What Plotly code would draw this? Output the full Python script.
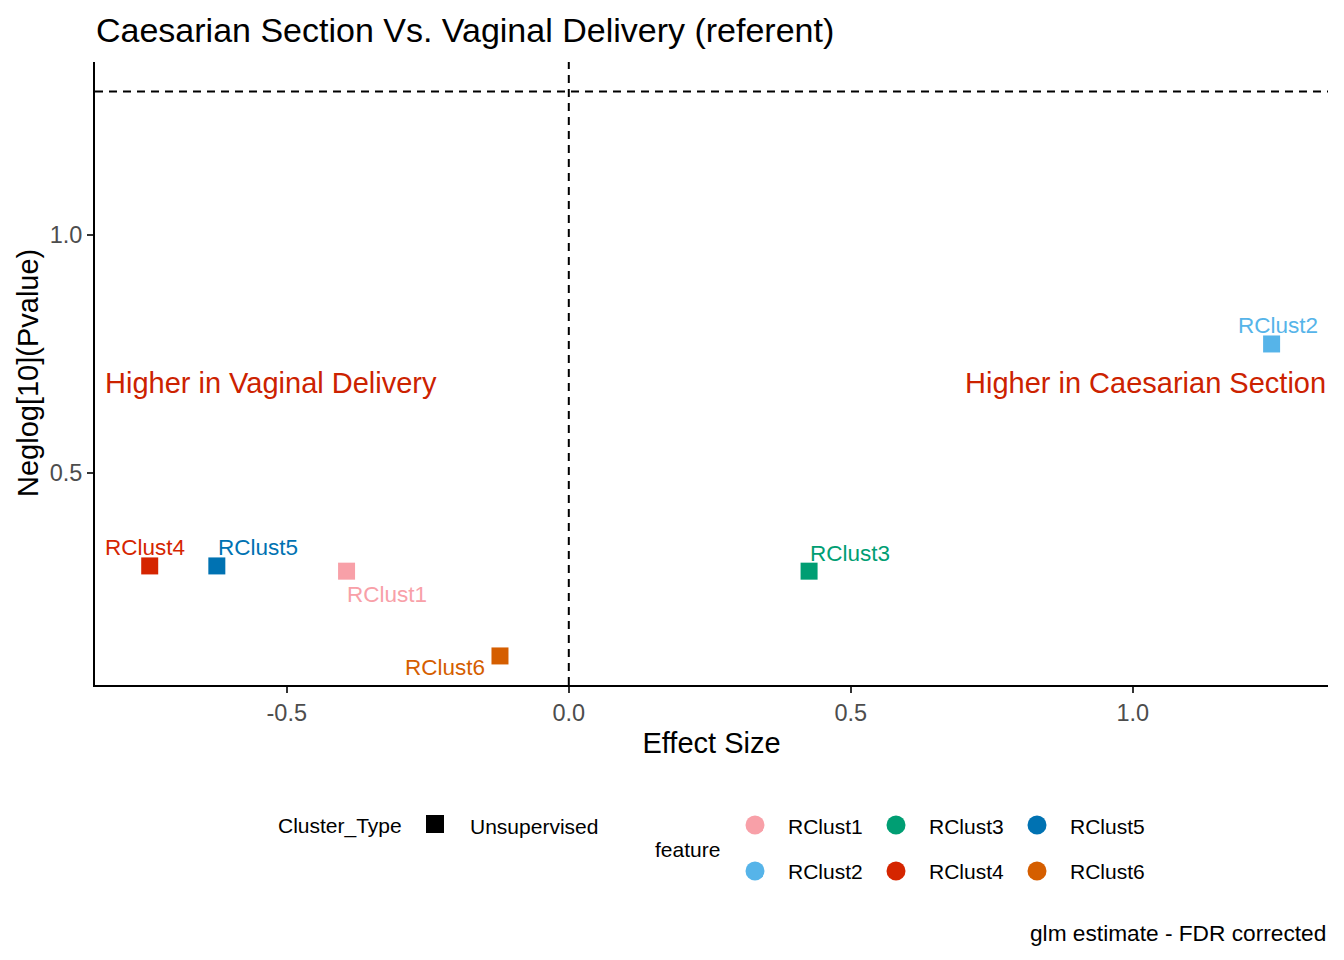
import plotly.graph_objects as go

# data
features = ["RClust1", "RClust2", "RClust3", "RClust4", "RClust5", "RClust6"]
effect_size = [-0.394, 1.246, 0.426, -0.743, -0.624, -0.122]
neglog_p = [0.294, 0.771, 0.294, 0.305, 0.305, 0.116]
colors = ["#F8A0A8", "#56B4E9", "#009E73", "#D52500", "#0072B2", "#D55E00"]
cluster_types = ["Unsupervised"]
fdr_line = 1.301  # -log10(0.05)

# label nudges (pixels) to mimic the repelled labels
label_shift = {
    "RClust1": (40, -23),
    "RClust2": (6, 18),
    "RClust3": (41, 18),
    "RClust4": (-5, 18),
    "RClust5": (41, 18),
    "RClust6": (-55, -12),
}

# page has an 8px body margin, so the figure itself sits at (8, 8)
OFF = 8
W, H = 1336, 952
L, R, T, B = 87, 16, 54, 275
PW, PH = W - L - R, H - T - B
FONT = "Liberation Sans, Arial, sans-serif"
TEXT_RED = "#CC2200"


def px(x):
    # page pixel -> paper x
    return (x - OFF - L) / PW


def py(y):
    # page pixel -> paper y
    return (OFF + T + PH - y) / PH


fig = go.Figure()

for f, x, y, c in zip(features, effect_size, neglog_p, colors):
    fig.add_trace(go.Scatter(
        x=[x], y=[y], mode="markers", name=f, showlegend=False,
        marker=dict(symbol="square", size=17, color=c, line=dict(width=0)),
    ))
    dx, dy = label_shift[f]
    fig.add_annotation(x=x, y=y, text=f, showarrow=False, xshift=dx, yshift=dy,
                       font=dict(family=FONT, size=22.5, color=c))

# reference lines
fig.add_shape(type="line", xref="paper", x0=0, x1=1, yref="y", y0=fdr_line, y1=fdr_line,
              line=dict(color="black", width=2, dash="8px,6px"))
fig.add_shape(type="line", xref="x", x0=0, x1=0, yref="paper", y0=0, y1=1,
              line=dict(color="black", width=2, dash="8px,6px"))

# direction labels
fig.add_annotation(xref="paper", x=0, xanchor="left", xshift=8, y=0.689, yref="y",
                   yanchor="middle", text="Higher in Vaginal Delivery", showarrow=False,
                   font=dict(family=FONT, size=29, color=TEXT_RED))
fig.add_annotation(xref="paper", x=1, xanchor="right", y=0.689, yref="y",
                   yanchor="middle", text="Higher in Caesarian Section", showarrow=False,
                   font=dict(family=FONT, size=29, color=TEXT_RED))

# y axis title as an annotation so it can be placed like ggplot's
fig.add_annotation(xref="paper", yref="paper", x=px(28), y=py(373), textangle=-90,
                   xanchor="center", yanchor="middle", text="Neglog[10](Pvalue)",
                   showarrow=False, font=dict(family=FONT, size=29, color="black"))

# legend, drawn by hand to follow the ggplot layout
leg_font = dict(family=FONT, size=21, color="black")


def leg_text(x, y, text):
    fig.add_annotation(xref="paper", yref="paper", x=px(x - 2), y=py(y), xanchor="left",
                       yanchor="middle", text=text, showarrow=False, font=leg_font)


leg_text(278, 826, "Cluster_Type")
fig.add_shape(type="rect", xref="paper", yref="paper", xsizemode="pixel", ysizemode="pixel",
              xanchor=px(435), yanchor=py(824), x0=-9, x1=9, y0=-9, y1=9,
              fillcolor="black", line=dict(width=0))
leg_text(470, 826, cluster_types[0])
leg_text(655, 849, "feature")
col_x = [755, 896, 1037]
row_y = [825, 871]
for i, (f, c) in enumerate(zip(features, colors)):
    cx = col_x[i // 2]
    cy = row_y[i % 2]
    fig.add_shape(type="circle", xref="paper", yref="paper", xsizemode="pixel",
                  ysizemode="pixel", xanchor=px(cx), yanchor=py(cy),
                  x0=-9.5, x1=9.5, y0=-9.5, y1=9.5, fillcolor=c, line=dict(width=0))
    leg_text(cx + 33, cy + 1, f)

fig.add_annotation(xref="paper", yref="paper", x=1, y=py(933), xanchor="right",
                   yanchor="middle", text="glm estimate - FDR corrected", showarrow=False,
                   font=dict(family=FONT, size=22.7, color="black"))

axis_common = dict(
    showgrid=False, zeroline=False, showline=True, linecolor="black", linewidth=2,
    ticks="outside", ticklen=6, tickwidth=2, tickcolor="#333333",
    tickfont=dict(family=FONT, size=23.5, color="#4D4D4D"),
)

fig.update_layout(
    width=W, height=H,
    margin=dict(l=L, r=R, t=T, b=B),
    paper_bgcolor="white", plot_bgcolor="white",
    showlegend=False,
    title=dict(text="Caesarian Section Vs. Vaginal Delivery (referent)",
               x=px(96), xref="paper", xanchor="left",
               y=1 - (30 - OFF) / H, yanchor="middle",
               font=dict(family=FONT, size=34, color="black")),
    xaxis=dict(range=[-0.840, 1.346], tickvals=[-0.5, 0.0, 0.5, 1.0],
               ticktext=["-0.5", "0.0", "0.5", "1.0"],
               title=dict(text="Effect Size", standoff=7,
                          font=dict(family=FONT, size=29, color="black")),
               **axis_common),
    yaxis=dict(range=[0.055, 1.363], tickvals=[0.5, 1.0], ticktext=["0.5", "1.0"],
               **axis_common),
)

fig.write_html("out.html")
